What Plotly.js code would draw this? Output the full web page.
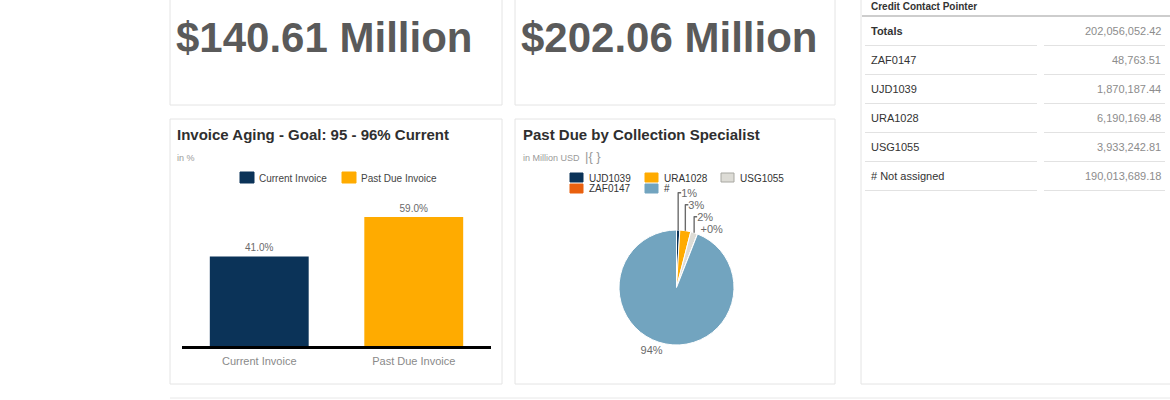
<!DOCTYPE html>
<html>
<head>
<meta charset="utf-8">
<script src="https://cdn.plot.ly/plotly-3.0.1.min.js"></script>
<style>
  html, body { margin: 0; padding: 0; background: #ffffff; }
  #dashboard { width: 1170px; height: 400px; }
</style>
</head>
<body>
<div id="dashboard"></div>
<script>
// KPI tiles
const kpiMillions = [140.61, 202.06];

// Invoice aging (in %)
const agingCategories = ['Current Invoice', 'Past Due Invoice'];
const agingValues = [41.0, 59.0];
const agingColors = ['#0b3358', '#ffab00'];

// Past due by collection specialist (in million USD)
const specialistCodes = ['UJD1039', 'URA1028', 'USG1055', 'ZAF0147', '#'];
const specialistMillions = [1.87, 6.19, 3.93, 0.05, 190.01];
const specialistColors = ['#0b3358', '#ffab00', '#dddcd6', '#e9600e', '#72a4bf'];

// Credit contact pointer table
const tableLabels = ['ZAF0147', 'UJD1039', 'URA1028', 'USG1055', '# Not assigned'];
const tableAmounts = [48763.51, 1870187.44, 6190169.48, 3933242.81, 190013689.18];

const W = 1170, H = 400;
const px = x => x / W;
const py = y => 1 - y / H;
const FONT = 'Liberation Sans, Arial, sans-serif';

function fmt(n) {
    return n.toLocaleString('en-US', { minimumFractionDigits: 2, maximumFractionDigits: 2 });
}

// pie labels like the SAP chart: tiny non-zero slices show "+0%"
const pieTotal = specialistMillions.reduce((a, b) => a + b, 0);
const pieText = specialistMillions.map(v => {
    const p = Math.round(v / pieTotal * 100);
    return (p === 0 && v > 0 ? '+' : '') + p + '%';
});

const barTrace = {
    type: 'bar',
    x: agingCategories,
    y: agingValues,
    marker: { color: agingColors },
    text: agingValues.map(v => v.toFixed(1) + '%'),
    textposition: 'outside',
    textfont: { family: FONT, size: 10, color: '#6a6a6a' },
    cliponaxis: false,
    showlegend: false,
    hoverinfo: 'none',
    xaxis: 'x',
    yaxis: 'y'
};

const pieTrace = {
    type: 'pie',
    labels: specialistCodes,
    values: specialistMillions,
    text: pieText,
    textinfo: 'text',
    textposition: 'outside',
    outsidetextfont: { family: FONT, size: 11, color: '#6a6a6a' },
    sort: false,
    direction: 'clockwise',
    rotation: 0,
    marker: { colors: specialistColors, line: { color: '#ffffff', width: 1 } },
    domain: { x: [px(619), px(734)], y: [py(345), py(230)] },
    showlegend: false,
    hoverinfo: 'none',
    automargin: false
};

const shapes = [];
const annotations = [];

function panel(x0, y0, x1, y1) {
    shapes.push({
        type: 'rect', xref: 'paper', yref: 'paper',
        x0: px(x0), x1: px(x1), y0: py(y1), y1: py(y0),
        line: { color: '#e4e4e4', width: 1 }, fillcolor: 'rgba(0,0,0,0)'
    });
}
function hline(x0, x1, y, color, width) {
    shapes.push({
        type: 'line', xref: 'paper', yref: 'paper',
        x0: px(x0), x1: px(x1), y0: py(y), y1: py(y),
        line: { color: color, width: width }
    });
}
function label(text, x, y, opts) {
    annotations.push(Object.assign({
        text: text, xref: 'paper', yref: 'paper',
        x: px(x), y: py(y), xanchor: 'left', yanchor: 'middle',
        showarrow: false,
        font: { family: FONT, size: 11, color: '#333333' }
    }, opts || {}));
}
function swatch(x, y, w, h, color, border) {
    shapes.push({
        type: 'rect', xref: 'paper', yref: 'paper',
        x0: px(x), x1: px(x + w), y0: py(y + h), y1: py(y),
        fillcolor: color, line: { color: border || color, width: 1 }
    });
}

// panels
panel(170, -5, 502, 105);
panel(515, -5, 835, 105);
panel(170, 119, 502, 384);
panel(515, 119, 835, 384);
panel(861, -5, 1180, 384);
hline(170, 1170, 398, '#e8e8e8', 1);

// KPI values
kpiMillions.forEach((v, i) => {
    label('<b>$' + v.toFixed(2) + ' Million</b>', [174, 519][i], 38,
        { font: { family: FONT, size: 42, color: '#5a5a5a' } });
});

// chart titles and subtitles
label('<b>Invoice Aging - Goal: 95 - 96% Current</b>', 175, 134,
    { font: { family: FONT, size: 15, color: '#2f2f2f' } });
label('in %', 175, 158, { font: { family: FONT, size: 9, color: '#9a9a9a' } });
label('<b>Past Due by Collection Specialist</b>', 521, 134,
    { font: { family: FONT, size: 15, color: '#2f2f2f' } });
label('in Million USD', 521, 158, { font: { family: FONT, size: 9, color: '#9a9a9a' } });
label('|{ }', 583, 156, { font: { family: FONT, size: 13, color: '#9a9a9a' } });

// bar legend
const barLegendX = [240, 342];
agingCategories.forEach((c, i) => {
    swatch(barLegendX[i], 172, 14, 11, agingColors[i]);
    label(c, barLegendX[i] + 17, 178, { font: { family: FONT, size: 10, color: '#444444' } });
});

// pie legend, three columns
const pieLegendX = [570, 645, 721];
specialistCodes.forEach((c, i) => {
    const col = i % 3, row = Math.floor(i / 3);
    const sx = pieLegendX[col], sy = 173 + row * 11;
    swatch(sx, sy, 13, 9, specialistColors[i], i === 2 ? '#a8a8a2' : null);
    label(c, sx + 17, sy + 5, { font: { family: FONT, size: 10, color: '#333333' } });
});

// table
label('<b>Credit Contact Pointer</b>', 869, 6, { font: { family: FONT, size: 10, color: '#333333' } });
hline(862, 1170, 16, '#bdbdbd', 1.5);
const totalAmount = tableAmounts.reduce((a, b) => a + b, 0);
const rows = [['<b>Totals</b>', totalAmount]].concat(tableLabels.map((l, i) => [l, tableAmounts[i]]));
rows.forEach((r, i) => {
    const cy = 31 + i * 29;
    label(r[0], 869, cy, { font: { family: FONT, size: 11, color: '#333333' } });
    label(fmt(r[1]), 1163, cy, { xanchor: 'right', font: { family: FONT, size: 11, color: '#8c8c8c' } });
    hline(865, 1037, cy + 14.5, '#e2e2e2', 1);
    hline(1044, 1165, cy + 14.5, '#e2e2e2', 1);
});

const layout = {
    width: W,
    height: H,
    margin: { l: 0, r: 0, t: 0, b: 0 },
    paper_bgcolor: '#ffffff',
    plot_bgcolor: 'rgba(0,0,0,0)',
    showlegend: false,
    bargap: 0.36,
    xaxis: {
        domain: [px(182), px(491)],
        showline: true,
        linecolor: '#000000',
        linewidth: 3,
        ticks: '',
        ticklabelstandoff: 3,
        showgrid: false,
        zeroline: false,
        tickfont: { family: FONT, size: 11, color: '#8a8a8a' },
        fixedrange: true
    },
    yaxis: {
        domain: [py(346), py(193)],
        range: [0, 70],
        visible: false,
        fixedrange: true
    },
    shapes: shapes,
    annotations: annotations,
    hovermode: false
};

Plotly.newPlot('dashboard', [barTrace, pieTrace], layout, { displayModeBar: false, staticPlot: true });
</script>
</body>
</html>
